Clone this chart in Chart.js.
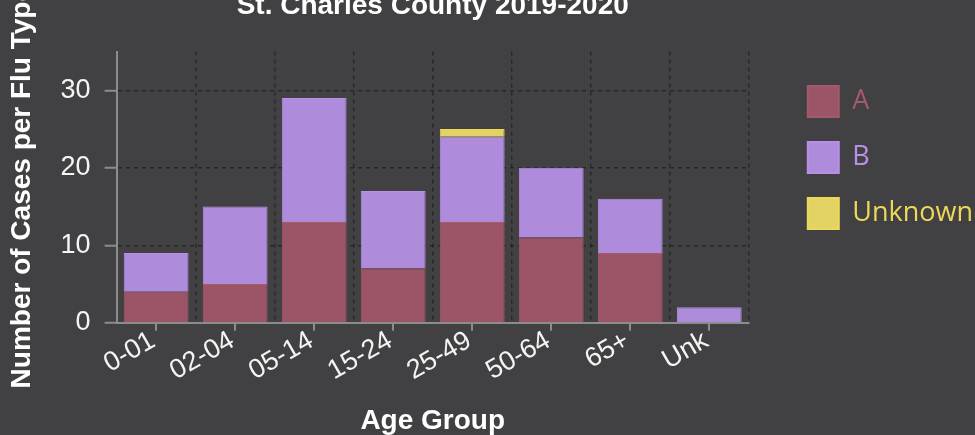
<!DOCTYPE html>
<html>
<head>
<meta charset="utf-8">
<script src="https://cdn.jsdelivr.net/npm/chart.js@4.4.1/dist/chart.umd.min.js"></script>
<style>
  html, body { margin: 0; padding: 0; background: #414143; overflow: hidden; }
  #wrap { width: 975px; height: 435px; position: relative; }
</style>
</head>
<body>
<div id="wrap"><canvas id="fluChart"></canvas></div>
<script>
// St. Charles County flu cases by age group
var ageGroups = ['0-01', '02-04', '05-14', '15-24', '25-49', '50-64', '65+', 'Unk'];
var fluA = [4, 5, 13, 7, 13, 11, 9, 0];
var fluB = [5, 10, 16, 10, 11, 9, 7, 2];
var fluUnknown = [0, 0, 0, 0, 1, 0, 0, 0];
var yTickValues = [0, 10, 20, 30];

var axisGray = '#8c8c8c';
var gridDark = 'rgba(20,20,20,0.55)';

Chart.defaults.font.family = '"Liberation Sans", Arial, sans-serif';
Chart.defaults.color = '#f4f4f4';

// tick marks under the category centres (grid lines sit between categories)
var centerTicks = {
    id: 'centerTicks',
    afterDraw: function(chart) {
        var xs = chart.scales.x;
        var ctx = chart.ctx;
        ctx.save();
        ctx.strokeStyle = axisGray;
        ctx.lineWidth = 2;
        ageGroups.forEach(function(label, i) {
            var px = Math.round(xs.getPixelForValue(i));
            ctx.beginPath();
            ctx.moveTo(px, xs.top);
            ctx.lineTo(px, xs.top + 8);
            ctx.stroke();
        });
        ctx.restore();
    }
};

var ctx = document.getElementById('fluChart').getContext('2d');
var fluChart = new Chart(ctx, {
    type: 'bar',
    data: {
        labels: ageGroups,
        datasets: [{
            label: 'A',
            data: fluA,
            backgroundColor: '#9b5566',
            borderColor: '#a4596c',
            borderWidth: 1
        }, {
            label: 'B',
            data: fluB,
            backgroundColor: '#ae8cdb',
            borderColor: '#b88fe6',
            borderWidth: 1
        }, {
            label: 'Unknown',
            data: fluUnknown,
            backgroundColor: '#e3d264',
            borderColor: '#eed858',
            borderWidth: 1
        }]
    },
    options: {
        responsive: true,
        maintainAspectRatio: false,
        animation: false,
        categoryPercentage: 0.82,
        barPercentage: 1.0,
        layout: { padding: { left: 0, top: 0, bottom: 0, right: -8 } },
        plugins: {
            title: {
                display: true,
                text: 'St. Charles County 2019-2020',
                fullSize: false,
                color: '#ffffff',
                font: { size: 28, weight: 'bold' },
                padding: { top: -11, bottom: 29 }
            },
            legend: {
                position: 'right',
                align: 'start',
                title: {
                    display: true,
                    text: '',
                    font: { size: 10 },
                    padding: { top: 49, bottom: 0 }
                },
                labels: {
                    boxWidth: 31,
                    boxHeight: 31,
                    padding: 25,
                    font: { size: 27, family: '"Open Sans", "Noto Sans", sans-serif' },
                    generateLabels: function(chart) {
                        return chart.data.datasets.map(function(ds, i) {
                            return {
                                text: ds.label,
                                fillStyle: ds.backgroundColor,
                                strokeStyle: ds.borderColor,
                                lineWidth: 2,
                                fontColor: ds.borderColor,
                                datasetIndex: i
                            };
                        });
                    }
                }
            },
            tooltip: { enabled: false }
        },
        scales: {
            x: {
                stacked: true,
                title: {
                    display: true,
                    text: 'Age Group',
                    color: '#ffffff',
                    font: { size: 28, weight: 'bold' },
                    padding: { top: 23, bottom: -3 }
                },
                ticks: {
                    minRotation: 30,
                    maxRotation: 30,
                    padding: -6,
                    labelOffset: -3,
                    font: { size: 27 }
                },
                grid: {
                    offset: true,
                    color: gridDark,
                    lineWidth: 1.5,
                    tickColor: 'transparent',
                    tickLength: 8
                },
                border: { color: axisGray, width: 2, dash: [4, 4] }
            },
            y: {
                stacked: true,
                min: 0,
                max: 35,
                afterBuildTicks: function(scale) {
                    scale.ticks = yTickValues.map(function(v) { return { value: v }; });
                },
                title: {
                    display: true,
                    text: 'Number of Cases per Flu Type',
                    color: '#ffffff',
                    font: { size: 28, weight: 'bold' },
                    padding: { top: 5, bottom: 8 }
                },
                ticks: {
                    padding: 14,
                    font: { size: 27 }
                },
                grid: {
                    color: gridDark,
                    lineWidth: 1.5,
                    tickColor: axisGray,
                    tickWidth: 2,
                    tickLength: 12
                },
                border: { color: axisGray, width: 2, dash: [4, 4] }
            },
            // invisible spacer between the plot and the legend
            y2: {
                position: 'right',
                display: false,
                afterFit: function(scale) { scale.width = 34; }
            }
        }
    },
    plugins: [centerTicks]
});
</script>
</body>
</html>
